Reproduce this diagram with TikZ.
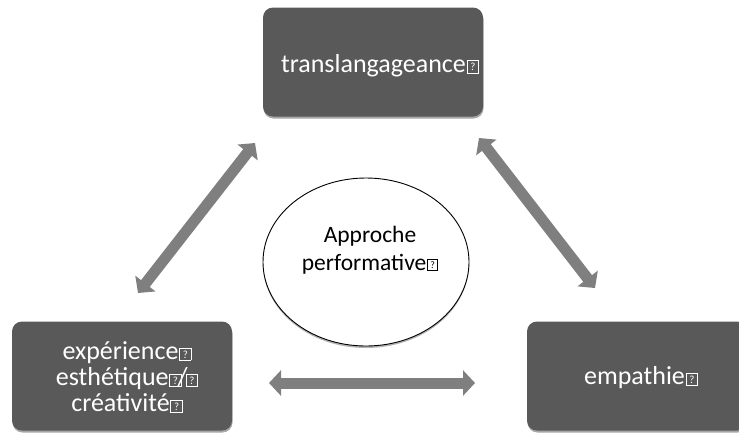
\documentclass[tikz,border=0pt]{standalone}
\usepackage{fontspec}
\setmainfont{Carlito}
\usetikzlibrary{arrows.meta,shadows}
\definecolor{boxgray}{HTML}{595959}
\definecolor{arrgray}{HTML}{7F7F7F}
\newcommand\mq{\kern0.03em{\setlength\fboxsep{0pt}\setlength\fboxrule{0.035em}\fbox{\rule{0pt}{0.44em}\makebox[0.4em]{\raisebox{0.07em}{\scalebox{0.42}{?}}}}}}
\begin{document}
\begin{tikzpicture}[x=1pt,y=-1pt,
  box/.style={rectangle, rounded corners=10pt, fill=boxgray, minimum width=220pt, minimum height=109pt,
    drop shadow={shadow xshift=0.5pt, shadow yshift=-2pt, opacity=0.35, fill=black}},
  boxtext/.style={text=white, font=\fontsize{26}{26}\selectfont, align=center, inner sep=0pt},
  circtext/.style={text=black, font=\fontsize{23.5}{28}\selectfont, align=center, inner sep=0pt},
  dbl/.style={draw=arrgray, line width=11pt, {Triangle[width=25pt,length=12pt]}-{Triangle[width=25pt,length=12pt]}}]
\useasboundingbox (0,0) rectangle (739,432);
\clip (0,0) rectangle (739,432);
% boxes
\node[box] (top) at (373,62) {};
\node[box] (bl) at (122,376) {};
\node[box] (br) at (637,376) {};
% ellipse
\draw[black, line width=0.9pt, fill=white, drop shadow={shadow xshift=0pt, shadow yshift=-2pt, opacity=0.3, fill=black}]
  (366,262) ellipse [x radius=103, y radius=84];
\coordinate (circ) at (366,262);
% texts
\node[boxtext] (toptext) at (380,66) {translangageance\mq};
\node[boxtext, text depth=0pt] (bltext) at (127,377) {exp\'erience\mq\\esth\'etique\mq\kern-0.15em/\kern-0.1em\mq\\cr\'eativit\'e\mq};
\node[boxtext] (brtext) at (641,378) {empathie\mq};
\node[circtext] (ctext) at (370,250) {Approche\\performative\mq};
% arrow ends
\coordinate (l1) at (138,293);
\coordinate (l2) at (255,143);
\coordinate (r1) at (479,138);
\coordinate (r2) at (595,288);
\coordinate (h1) at (269,383);
\coordinate (h2) at (475,383);
\draw[dbl] (l1) -- (l2);
\draw[dbl] (r1) -- (r2);
\draw[dbl] (h1) -- (h2);
\end{tikzpicture}
\end{document}
